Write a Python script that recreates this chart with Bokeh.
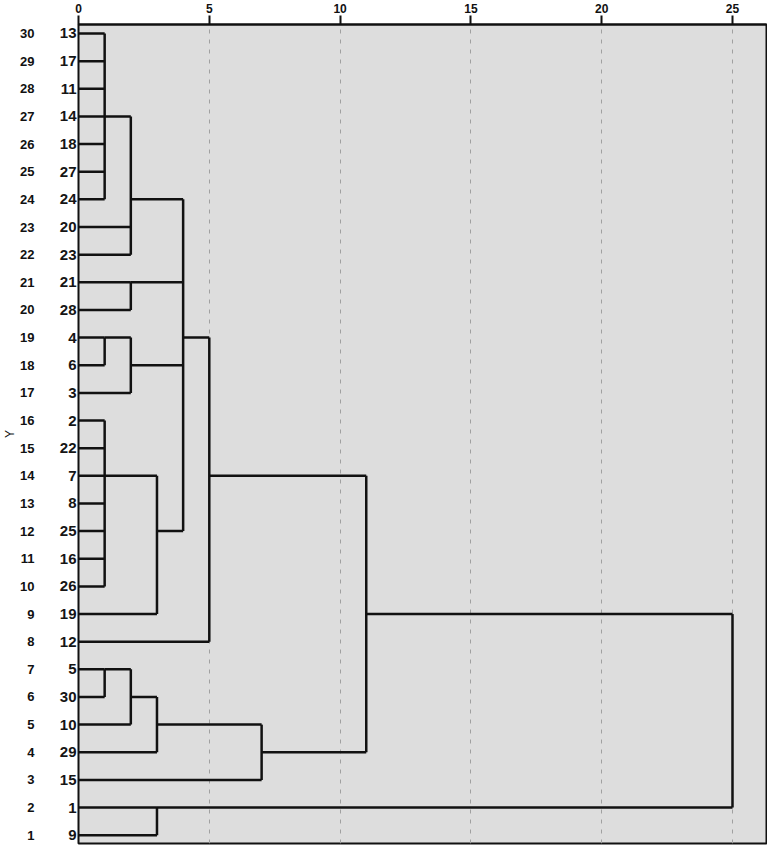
from bokeh.plotting import figure
from bokeh.models import LinearAxis, FixedTicker, Range1d, ColumnDataSource
from bokeh.embed import file_html
from bokeh.resources import INLINE

# ---- data ----
# leaf labels, top (row 30) to bottom (row 1)
leaf_labels = ["13", "17", "11", "14", "18", "27", "24", "20", "23", "21",
               "28", "4", "6", "3", "2", "22", "7", "8", "25", "16",
               "26", "19", "12", "5", "30", "10", "29", "15", "1", "9"]
leaf_rows = list(range(30, 0, -1))
x_ticks = [0, 5, 10, 15, 20, 25]
grid_ticks = [5, 10, 15, 20, 25]

# merge nodes: name, rescaled distance, children, row where the node's link leaves
node_names = ["N1", "N2", "N3", "N4", "N5", "N6", "N7", "N8",
              "N9", "N10", "N11", "N12", "N13", "N14", "N15", "N16"]
node_heights = [1, 2, 2, 1, 2, 1, 3, 4, 5, 1, 2, 3, 7, 11, 3, 25]
node_children = [
    ["13", "17", "11", "14", "18", "27", "24"],
    ["N1", "20", "23"],
    ["21", "28"],
    ["4", "6"],
    ["N4", "3"],
    ["2", "22", "7", "8", "25", "16", "26"],
    ["N6", "19"],
    ["N2", "N3", "N5", "N7"],
    ["N8", "12"],
    ["5", "30"],
    ["N10", "10"],
    ["N11", "29"],
    ["N12", "15"],
    ["N9", "N13"],
    ["1", "9"],
    ["N14", "N15"],
]
node_out_rows = [27, 24, 21, 19, 18, 14, 12, 19, 14, 7, 6, 5, 4, 9, 2, None]

# ---- build segments from the tree ----
pos = {lab: (r, 0) for lab, r in zip(leaf_labels, leaf_rows)}
x0, y0, x1, y1 = [], [], [], []
for name, h, ch, out in zip(node_names, node_heights, node_children, node_out_rows):
    crow = [pos[c][0] for c in ch]
    # vertical
    x0.append(h); x1.append(h); y0.append(min(crow)); y1.append(max(crow))
    # horizontals
    for c in ch:
        r, ch_h = pos[c]
        x0.append(ch_h); x1.append(h); y0.append(r); y1.append(r)
    if out is not None:
        pos[name] = (out, h)

src = ColumnDataSource(dict(x0=x0, y0=y0, x1=x1, y1=y1))

FONT = "Liberation Sans"

p = figure(width=767, height=845, x_range=Range1d(0, 26.3),
           y_range=Range1d(0.7, 30.325), x_axis_location="above",
           output_backend="svg", toolbar_location=None,
           min_border_left=0, min_border_right=1, min_border_top=24,
           min_border_bottom=2)
p.background_fill_color = "#dddddd"
p.border_fill_color = "white"
p.outline_line_color = "#111111"
p.outline_line_width = 2
p.outline_line_alpha = 1

p.segment("x0", "y0", "x1", "y1", source=src, line_color="#111111",
          line_width=2.5)

# grid
p.xgrid.ticker = FixedTicker(ticks=grid_ticks)
p.xgrid.grid_line_color = "#a0a0a0"
p.xgrid.grid_line_dash = "4 6"
p.xgrid.grid_line_width = 1
p.ygrid.grid_line_color = None

# top axis
xa = p.xaxis[0]
xa.ticker = FixedTicker(ticks=x_ticks)
xa.major_label_text_font = FONT
xa.major_label_text_font_style = "bold"
xa.major_label_text_font_size = "12px"
xa.major_label_text_color = "#111111"
xa.major_tick_out = 9
xa.major_tick_in = 0
xa.major_tick_line_width = 2
xa.major_tick_line_color = "#111111"
xa.minor_tick_line_color = None
xa.axis_line_color = "#111111"
xa.axis_line_width = 2
xa.major_label_standoff = 3

# inner left axis: leaf labels
ya = p.yaxis[0]
ya.ticker = FixedTicker(ticks=leaf_rows)
ya.major_label_overrides = {r: lab for r, lab in zip(leaf_rows, leaf_labels)}
ya.major_label_text_font = FONT
ya.major_label_text_font_style = "bold"
ya.major_label_text_font_size = "15px"
ya.major_label_text_color = "#151515"
ya.major_tick_line_color = None
ya.minor_tick_line_color = None
ya.axis_line_color = None
ya.major_label_standoff = -4

# outer left axis: row numbers
ya2 = LinearAxis(ticker=FixedTicker(ticks=leaf_rows), axis_label="Y")
ya2.major_label_text_font = FONT
ya2.major_label_text_font_style = "bold"
ya2.major_label_text_font_size = "13px"
ya2.major_label_text_color = "#111111"
ya2.major_tick_line_color = None
ya2.minor_tick_line_color = None
ya2.axis_line_color = None
ya2.major_label_standoff = 16
ya2.axis_label_text_font = FONT
ya2.axis_label_text_font_style = "normal"
ya2.axis_label_text_font_size = "12px"
ya2.axis_label_text_color = "#111111"
ya2.axis_label_standoff = 0
p.add_layout(ya2, "left")

open("out.html", "w").write(file_html(p, INLINE))
